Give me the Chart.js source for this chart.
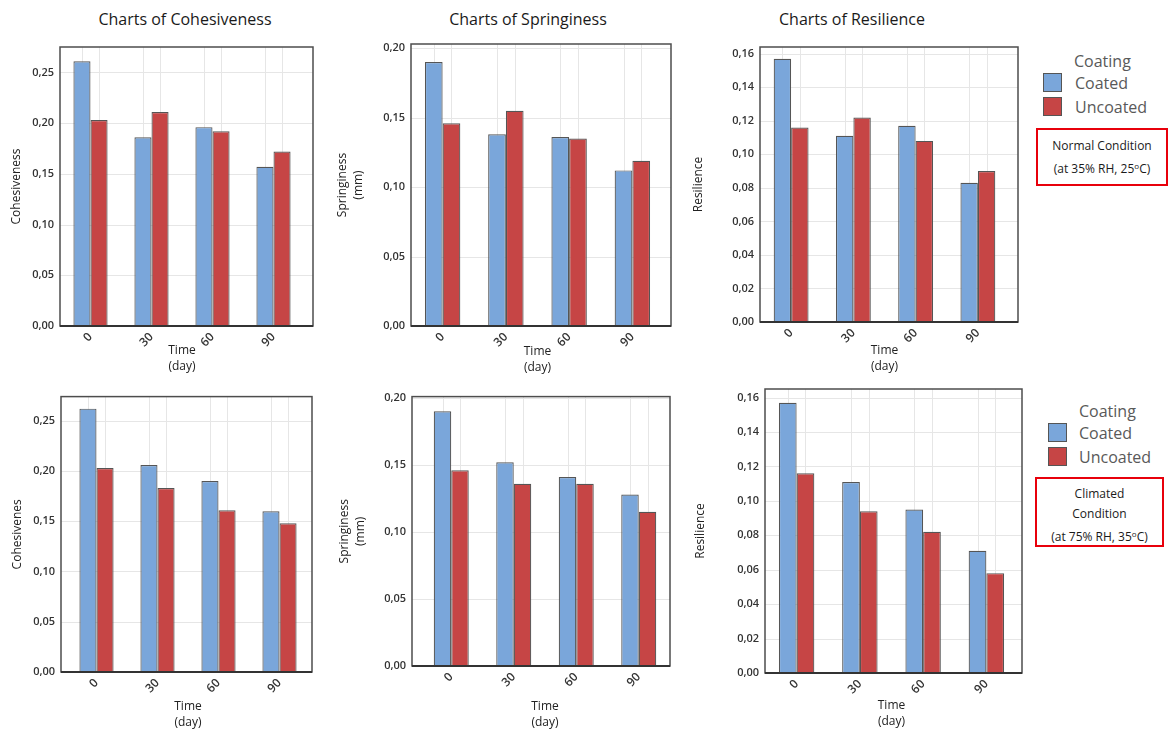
<!DOCTYPE html>
<html>
<head>
<meta charset="utf-8">
<script src="https://cdn.jsdelivr.net/npm/chart.js@4.4.1/dist/chart.umd.min.js"></script>
<style>
  body { margin: 0; background: #fff; font-family: 'Open Sans', sans-serif; }
  #page { position: relative; width: 1171px; height: 730px; overflow: hidden; }
  .box { position: absolute; }
  .title { position: absolute; font-size: 16px; color: #1a1a1a; white-space: nowrap; transform: translateX(-50%); line-height: 20px; }
  .legTitle { position: absolute; font-size: 16px; color: #595959; line-height: 20px; }
  .sw { position: absolute; width: 17px; height: 17px; border: 1px solid #555; }
  .legText { position: absolute; font-size: 16px; color: #595959; line-height: 20px; }
  .cond { position: absolute; border: 2px solid #e8000b; font-size: 12px; color: #1a1a1a; text-align: center; line-height: 20px; box-sizing: border-box; }
</style>
</head>
<body>
<div id="page">
  <div class="title" style="left:185px; top:9px;">Charts of Cohesiveness</div>
  <div class="title" style="left:528px; top:9px;">Charts of Springiness</div>
  <div class="title" style="left:852px; top:9px;">Charts of Resilience</div>

  <div class="legTitle" style="left:1074px; top:51px;">Coating</div>
  <div class="sw" style="left:1043px; top:73px; background:#7aa6da;"></div>
  <div class="legText" style="left:1075px; top:73px;">Coated</div>
  <div class="sw" style="left:1043px; top:97px; background:#c64545;"></div>
  <div class="legText" style="left:1075px; top:97px;">Uncoated</div>
  <div class="cond" style="left:1036px; top:128px; width:132px; height:58px; padding-top:6px;">Normal Condition<br>(at 35% RH, 25<span style="font-size:8px; vertical-align:4px;">o</span>C)</div>

  <div class="legTitle" style="left:1079px; top:401px;">Coating</div>
  <div class="sw" style="left:1048px; top:423px; background:#7aa6da;"></div>
  <div class="legText" style="left:1079px; top:423px;">Coated</div>
  <div class="sw" style="left:1048px; top:447px; background:#c64545;"></div>
  <div class="legText" style="left:1079px; top:447px;">Uncoated</div>
  <div class="cond" style="left:1035px; top:477px; width:129px; height:70px; padding-top:5px;">Climated<br>Condition<br>(at 75% RH, 35<span style="font-size:8px; vertical-align:4px;">o</span>C)</div>
</div>
<script>
// data
var days = ["0", "30", "60", "90"];

var cohNormalCoated   = [0.261, 0.186, 0.196, 0.157];
var cohNormalUncoated = [0.203, 0.211, 0.192, 0.172];
var sprNormalCoated   = [0.190, 0.138, 0.136, 0.112];
var sprNormalUncoated = [0.146, 0.155, 0.135, 0.119];
var resNormalCoated   = [0.157, 0.111, 0.117, 0.083];
var resNormalUncoated = [0.116, 0.122, 0.108, 0.090];

var cohClimCoated   = [0.262, 0.206, 0.190, 0.160];
var cohClimUncoated = [0.203, 0.183, 0.161, 0.148];
var sprClimCoated   = [0.190, 0.152, 0.141, 0.128];
var sprClimUncoated = [0.146, 0.136, 0.136, 0.115];
var resClimCoated   = [0.157, 0.111, 0.095, 0.071];
var resClimUncoated = [0.116, 0.094, 0.082, 0.058];

var seriesNames = ["Coated", "Uncoated"];
var barColors = ["#7aa6da", "#c64545"];

Chart.defaults.font.family = "'Open Sans', sans-serif";
Chart.defaults.color = "#2a2a2a";

// frame round the plot (a bit wider than the category band, like the original),
// horizontal grid at the y ticks, faint vertical lines through each bar
var framePlugin = {
  id: 'frame',
  beforeDatasetsDraw: function(chart, args, opts) {
    var ctx = chart.ctx, a = chart.chartArea, y = chart.scales.y;
    var fl = a.left - opts.exL, fr = a.right + opts.exR;
    ctx.save();
    ctx.strokeStyle = '#e6e6e6';
    ctx.lineWidth = 1;
    y.ticks.forEach(function(t) {
      var py = Math.round(y.getPixelForValue(t.value)) + 0.5;
      ctx.beginPath(); ctx.moveTo(fl, py); ctx.lineTo(fr, py); ctx.stroke();
    });
    chart.data.datasets.forEach(function(d, i) {
      chart.getDatasetMeta(i).data.forEach(function(bar) {
        var x = Math.round(bar.x) + 0.5;
        ctx.beginPath(); ctx.moveTo(x, a.top); ctx.lineTo(x, a.bottom); ctx.stroke();
      });
    });
    ctx.restore();
  },
  afterDatasetsDraw: function(chart, args, opts) {
    var ctx = chart.ctx, a = chart.chartArea;
    var fl = a.left - opts.exL, fr = a.right + opts.exR;
    ctx.save();
    ctx.strokeStyle = '#4d4d4d';
    ctx.lineWidth = 1.5;
    ctx.strokeRect(fl, a.top, fr - fl, a.bottom - a.top);
    ctx.strokeStyle = '#333';
    ctx.lineWidth = 2;
    ctx.beginPath(); ctx.moveTo(fl, a.bottom); ctx.lineTo(fr, a.bottom); ctx.stroke();
    ctx.restore();
  }
};

// area = category band [left, top, right, bottom]; exL/exR = frame beyond the band
function makeChart(area, exL, exR, yW, xH, yTitle, coated, uncoated, yMax, step) {
  var padTop = 14, padRight = 6 + exR;
  var left = area[0] - yW, top = area[1] - padTop;
  var w = area[2] - left + padRight, h = area[3] + xH - top;

  var box = document.createElement('div');
  box.className = 'box';
  box.style.left = left + 'px'; box.style.top = top + 'px';
  box.style.width = w + 'px'; box.style.height = h + 'px';
  var cv = document.createElement('canvas');
  box.appendChild(cv);
  document.getElementById('page').appendChild(box);

  new Chart(cv, {
    type: 'bar',
    data: {
      labels: days,
      datasets: [
        { label: seriesNames[0], data: coated, backgroundColor: barColors[0], borderColor: '#555', borderWidth: 1.2,
          categoryPercentage: 0.56, barPercentage: 1.0 },
        { label: seriesNames[1], data: uncoated, backgroundColor: barColors[1], borderColor: '#555', borderWidth: 1.2,
          categoryPercentage: 0.56, barPercentage: 1.0 }
      ]
    },
    options: {
      responsive: true,
      maintainAspectRatio: false,
      animation: false,
      devicePixelRatio: 1,
      layout: { padding: { top: padTop, right: padRight, left: 0, bottom: 0 } },
      plugins: { legend: { display: false }, tooltip: { enabled: false }, frame: { exL: exL, exR: exR } },
      scales: {
        x: {
          grid: { display: false, drawTicks: false },
          border: { display: false },
          ticks: { minRotation: 45, maxRotation: 45, padding: 4, font: { size: 12, weight: '600' }, color: '#333' },
          title: { display: true, text: ['Time', '(day)'], font: { size: 12, lineHeight: 1.3 }, color: '#222', padding: 0 },
          afterFit: function(s) { s.height = xH; }
        },
        y: {
          min: 0, max: yMax,
          grid: { display: false, drawTicks: false },
          border: { display: false },
          ticks: {
            stepSize: step, includeBounds: false, padding: 6 + exL, font: { size: 11, weight: '600' }, color: '#333',
            callback: function(v) { return v.toFixed(2).replace('.', ','); }
          },
          afterBuildTicks: function(s) {
            s.ticks = s.ticks.filter(function(t) {
              var r = t.value / step;
              return Math.abs(r - Math.round(r)) < 1e-6;
            });
          },
          title: { display: true, text: yTitle, font: { size: 12, lineHeight: 1.3 }, color: '#222', padding: { top: 4, bottom: 0 } },
          afterFit: function(s) { s.width = yW; }
        }
      }
    },
    plugins: [framePlugin]
  });
}

makeChart([60, 47, 304, 326], 0, 9, 55, 48, 'Cohesiveness', cohNormalCoated, cohNormalUncoated, 0.275, 0.05);
makeChart([411, 44, 664, 326], 0, 7, 80, 49, ['Springiness', '(mm)'], sprNormalCoated, sprNormalUncoated, 0.203, 0.05);
makeChart([760, 47, 1009, 322], 0, 9, 73, 52, 'Resilience', resNormalCoated, resNormalUncoated, 0.164, 0.02);

makeChart([66, 393, 310, 672], 5, 2, 60, 58, 'Cohesivenes', cohClimCoated, cohClimUncoated, 0.274, 0.05);
makeChart([420, 390, 670, 666], 8, 0, 87, 64, ['Springiness', '(mm)'], sprClimCoated, sprClimUncoated, 0.201, 0.05);
makeChart([765, 389, 1018, 673], 0, 4, 76, 56, 'Resilience', resClimCoated, resClimUncoated, 0.165, 0.02);
</script>
</body>
</html>
